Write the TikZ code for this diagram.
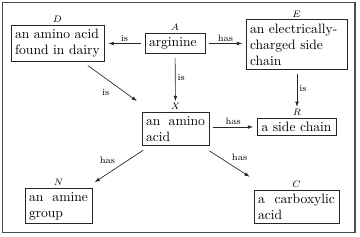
\documentclass[tikz,border=0pt]{standalone}
\usetikzlibrary{arrows.meta,positioning}
\begin{document}
\begin{tikzpicture}[x=0.75pt,y=-0.75pt,
  box/.style={draw=black!85,line width=0.6pt,rectangle,inner xsep=3pt,inner ysep=3pt,font=\fontsize{10.2}{12}\selectfont},
  lbl/.style={font=\scriptsize,inner sep=1pt},
  rel/.style={-{Latex[length=4pt,width=2.8pt]},line width=0.5pt,draw=black!85},
  elbl/.style={font=\scriptsize,inner sep=1.5pt},
  label distance=0.5pt
]
\useasboundingbox (0,0) rectangle (360,236);
\draw[black!70,line width=0.8pt] (2.5,2.5) rectangle (355,232.5);

\node[box,text width=63.75pt,label={[lbl,name=Dl]above:$D$}] (D) at (57.5,43.5) {an amino acid\\found in dairy};
\node[box,text width=39pt,label={[lbl,name=Al]above:$A$}] (A) at (175,43.5) {arginine};
\node[box,text width=69.75pt,label={[lbl,name=El]above:$E$}] (E) at (296.5,44.5) {an electrically-\\charged side\\chain};
\node[box,text width=44.25pt,label={[lbl,name=Xl]above:$X$}] (X) at (175.5,129) {an\hfill amino\\acid};
\node[box,text width=53.25pt,label={[lbl,name=Rl]above:$R$}] (R) at (297,127) {a side chain};
\node[box,text width=44.25pt,label={[lbl,name=Nl]above:$N$}] (N) at (58.5,206) {an\hfill amine\\group};
\node[box,text width=57.75pt,label={[lbl,name=Cl]above:$C$}] (C) at (296.5,207) {a\hfill carboxylic\\acid};

\draw[rel,shorten <=3pt,shorten >=3pt] (A.west) -- node[elbl,above]{is} (D.east |- A.west);
\draw[rel,shorten <=3pt,shorten >=2.5pt] (A.east) -- node[elbl,above]{has} (E.west |- A.east);
\draw[rel,shorten <=3pt,shorten >=0.5pt] (A) -- node[elbl,right]{is} (Xl);
\draw[rel,shorten <=4.5pt,shorten >=14pt] (D) -- node[elbl,pos=0.5,below left=0.3pt and 4.5pt]{is} (X);
\draw[rel,shorten <=3pt,shorten >=0.5pt] (E.south -| Rl) -- node[elbl,right]{is} (Rl);
\draw[rel,shorten <=3pt,shorten >=3pt] (X.east |- R.west) -- node[elbl,above]{has} (R.west);
\draw[rel,shorten <=6pt,shorten >=7.5pt] (X) -- node[elbl,pos=0.5,above left=0.5pt]{has} (N);
\draw[rel,shorten <=6.75pt,shorten >=18pt] (X) -- node[elbl,pos=0.4,above right=0.7pt]{has} (C);
\end{tikzpicture}
\end{document}
